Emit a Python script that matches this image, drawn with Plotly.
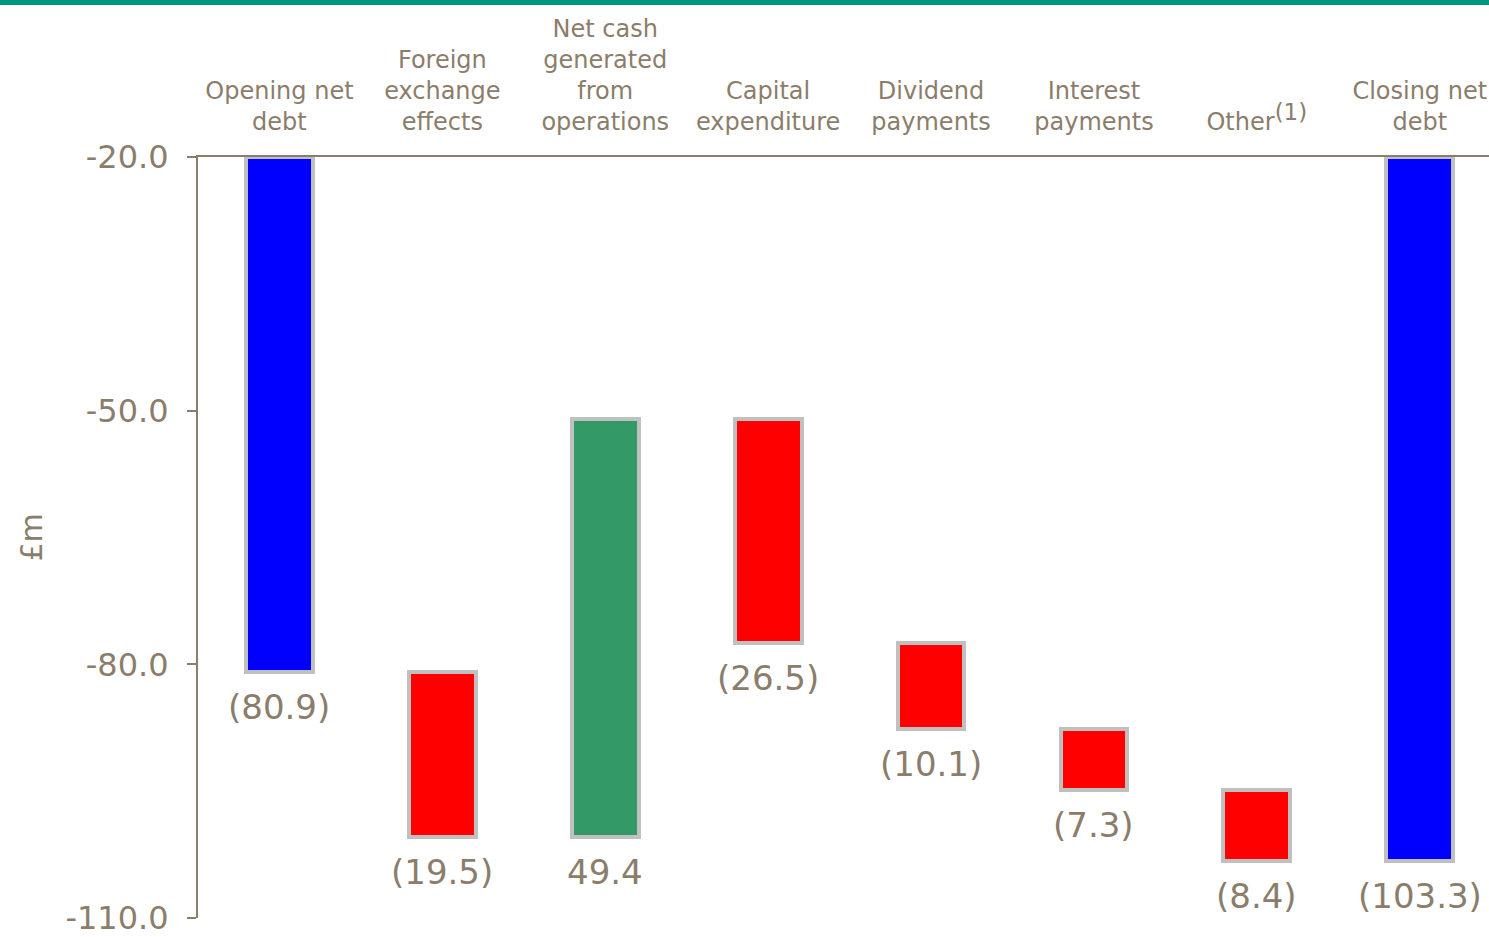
import plotly.graph_objects as go

# Net debt bridge (£m)
categories = [
    "Opening net<br>debt",
    "Foreign<br>exchange<br>effects",
    "Net cash<br>generated<br>from<br>operations",
    "Capital<br>expenditure",
    "Dividend<br>payments",
    "Interest<br>payments",
    "Other<sup><span style='font-size:23px'>(1)</span></sup>",
    "Closing net<br>debt",
]
opening_net_debt = -80.9
movements = [-19.5, 49.4, -26.5, -10.1, -7.3, -8.4]
closing_net_debt = -103.3
axis_top = -20.0
y_ticks = [-20.0, -50.0, -80.0, -110.0]

TEXT = "#8B7D6B"
FONT = "DejaVu Sans"
BLUE, RED, GREEN = "#0000FF", "#FF0000", "#339966"

# Bar extents: totals hang from the axis top, movements float on the running total
bases, heights, colors, labels = [], [], [], []
bases.append(opening_net_debt)
heights.append(axis_top - opening_net_debt)
colors.append(BLUE)
labels.append(opening_net_debt)

running = opening_net_debt
for m in movements:
    new = running + m
    lo, hi = min(running, new), max(running, new)
    bases.append(lo)
    heights.append(hi - lo)
    colors.append(GREEN if m > 0 else RED)
    labels.append(m)
    running = new

bases.append(closing_net_debt)
heights.append(axis_top - closing_net_debt)
colors.append(BLUE)
labels.append(closing_net_debt)


def fmt(v):
    return f"({abs(v):.1f})" if v < 0 else f"{v:.1f}"


xs = list(range(len(categories)))

fig = go.Figure(
    go.Bar(
        x=xs,
        y=heights,
        base=bases,
        width=0.41,
        marker=dict(color=colors, line=dict(color="#C0C0C0", width=4)),
        hoverinfo="skip",
    )
)

for x, b, v in zip(xs, bases, labels):
    fig.add_annotation(
        x=x, y=b, text=fmt(v), showarrow=False, yanchor="middle", yshift=-35,
        font=dict(family=FONT, size=34, color=TEXT),
    )

W, H = 1489, 937
L, R, T, B = 198, 0, 157, 19
plot_w = W - L - R
plot_h = H - T - B

# y-axis title
fig.add_annotation(
    xref="paper", yref="paper", x=(31 - L) / plot_w, y=0.5,
    text="£m", textangle=-90, showarrow=False, xanchor="center", yanchor="middle",
    font=dict(family=FONT, size=30, color=TEXT),
)

# teal band across the top of the page
fig.add_shape(
    type="rect", xref="paper", yref="paper",
    x0=-L / plot_w, x1=1.0 + 0.01,
    y0=1 + (T - 5) / plot_h, y1=1 + T / plot_h + 0.01,
    fillcolor="#00957F", line=dict(width=0), layer="above",
)

fig.update_layout(
    width=W, height=H,
    margin=dict(l=L, r=R, t=T, b=B),
    plot_bgcolor="white", paper_bgcolor="white",
    showlegend=False,
    bargap=0,
    xaxis=dict(
        side="top", range=[-0.5, -0.5 + plot_w / 162.9],
        tickvals=xs, ticktext=categories, ticks="",
        ticklabelstandoff=15,
        tickfont=dict(family=FONT, size=24, color=TEXT),
        showline=True, linecolor=TEXT, linewidth=2,
        showgrid=False, zeroline=False, fixedrange=True,
    ),
    yaxis=dict(
        range=[-110, -20], tickvals=y_ticks, ticktext=[f"{v:.1f}" for v in y_ticks],
        ticks="outside", ticklen=9, tickwidth=2, tickcolor=TEXT,
        ticklabelstandoff=12, ticklabeloverflow="allow",
        tickfont=dict(family=FONT, size=32, color=TEXT),
        showline=True, linecolor=TEXT, linewidth=2,
        showgrid=False, zeroline=False, fixedrange=True,
    ),
)

fig.write_html("out.html")
